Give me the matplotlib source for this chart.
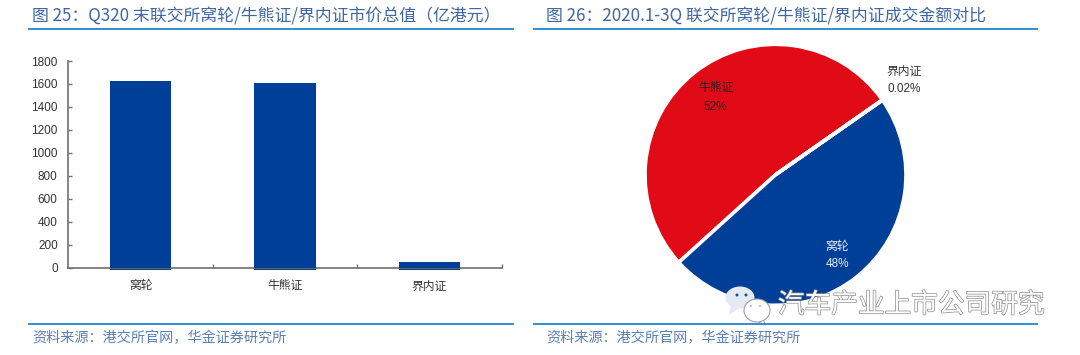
"""Two panels: bar of warrant / CBBC / inline warrant market value, pie of turnover share."""
import matplotlib
matplotlib.use("Agg")
import matplotlib.pyplot as plt
import matplotlib.patheffects as pe
from matplotlib.lines import Line2D
from matplotlib.patches import Ellipse, Polygon

plt.rcParams["font.family"] = ["Liberation Sans", "Noto Sans CJK SC", "DejaVu Sans"]

# --- data ---
BAR_CATEGORIES = ["窝轮", "牛熊证", "界内证"]
BAR_VALUES = [1625, 1612, 47]
BAR_YTICKS = [0, 200, 400, 600, 800, 1000, 1200, 1400, 1600, 1800]

PIE_VALUES = [52, 48, 0.02]
PIE_COLORS = ["#e10a17", "#003f98", "#d0d0d0"]

TITLE_LEFT = "图 25：Q320 末联交所窝轮/牛熊证/界内证市价总值（亿港元）"
TITLE_RIGHT = "图 26：2020.1-3Q 联交所窝轮/牛熊证/界内证成交金额对比"
SOURCE = "资料来源：港交所官网，华金证券研究所"
WATERMARK = "汽车产业上市公司研究"

W, H = 1080, 355
BLUE = "#003f98"
RULE = "#2f8fd0"
TITLE_COLOR = "#3f66a3"
SOURCE_COLOR = "#5a80b5"
CJK = ["Noto Sans CJK SC", "DejaVu Sans"]


def fx(x):
    return x / W


def fy(y):
    return 1 - y / H


def px_axes(fig, left, top, right, bottom):
    return fig.add_axes([fx(left), fy(bottom), (right - left) / W, (bottom - top) / H])


def label(fig, x, y, s, **kw):
    kw.setdefault("ha", "center")
    kw.setdefault("va", "center")
    fig.text(fx(x), fy(y), s, **kw)


fig = plt.figure(figsize=(W / 100, H / 100), dpi=100, facecolor="white")

# header / footer rules and captions
for x0, x1, ttl, tx in [(29, 512.5, TITLE_LEFT, 32), (534, 1037, TITLE_RIGHT, 546)]:
    for yy in (29.3, 324.3):
        fig.add_artist(Line2D([fx(x0), fx(x1)], [fy(yy), fy(yy)], color=RULE, lw=1.4))
    label(fig, tx, 16.5, ttl, ha="left", fontsize=12.15, color=TITLE_COLOR, family=CJK)
    label(fig, tx, 338, SOURCE, ha="left", fontsize=10.2, color=SOURCE_COLOR, family=CJK, style="italic")

# bar panel
ax = px_axes(fig, 68.3, 61, 501.7, 267.7)
xs = range(len(BAR_VALUES))
overhang = 20  # bars poke slightly under the axis in the source
ax.bar(xs, [v + overhang for v in BAR_VALUES], bottom=-overhang, width=0.425, color=BLUE,
       clip_on=False, zorder=2)
ax.hlines([0] * len(BAR_VALUES), [i - 0.2125 for i in xs], [i + 0.2125 for i in xs],
          color="#00306f", lw=1.2, zorder=4)
ax.set_xlim(-0.5, 2.5)
ax.set_ylim(0, 1800)
ax.set_yticks(BAR_YTICKS)
ax.set_xticks([0.5, 1.5, 2.5])
ax.set_xticklabels([])
ax.tick_params(axis="y", direction="in", length=3, width=1, color="#707070", labelsize=8.5,
               labelcolor="#333333", pad=7.6)
ax.tick_params(axis="x", direction="in", length=3, width=1, color="#707070")
for side in ("top", "right"):
    ax.spines[side].set_visible(False)
for side in ("left", "bottom"):
    ax.spines[side].set_color("#707070")
    ax.spines[side].set_linewidth(1.2)
for i, name in enumerate(BAR_CATEGORIES):
    label(fig, 140.5 + 144.5 * i, 286.5, name, fontsize=8.5, color="#333333")

# pie panel
pie_ax = px_axes(fig, 645, 44.3, 906, 305.3)
pie_ax.pie(PIE_VALUES, colors=PIE_COLORS, startangle=35, counterclock=True, radius=1,
           wedgeprops={"edgecolor": "white", "linewidth": 2.6, "clip_on": False})
pie_ax.set_xlim(-1, 1)
pie_ax.set_ylim(-1, 1)
label(fig, 716, 88, "牛熊证", fontsize=8.5, color="#222222")
label(fig, 715, 106.5, "52%", fontsize=8.5, color="#222222")
label(fig, 904, 71.5, "界内证", fontsize=8.5, color="#333333")
label(fig, 904, 89, "0.02%", fontsize=8.5, color="#333333")
label(fig, 837, 247, "窝轮", fontsize=8.5, color="#e8edf5")
label(fig, 837, 264.3, "48%", fontsize=8.5, color="#e8edf5")

# watermark on top of everything
over = fig.add_axes([0, 0, 1, 1], facecolor="none")
over.set_xlim(0, W)
over.set_ylim(H, 0)
over.axis("off")
over.add_patch(Polygon([(731, 304), (729, 315), (741, 307)], fc="#e4e9f2", ec="none"))
over.add_patch(Ellipse((740, 297.5), 29, 22, fc="#e4e9f2", ec="none"))
over.add_patch(Polygon([(762, 318), (766, 325), (756, 321)], fc="white", ec="#999999", lw=0.6))
over.add_patch(Ellipse((757, 310.5), 26, 23, fc="white", ec="#a0a0a0", lw=0.8))
for dx, dy, c, r in [(737, 295, "#1c4f9a", 3), (746, 295, "#1c4f9a", 3),
                     (751, 306, "#c0c0c0", 2.2), (760, 306, "#c0c0c0", 2.2)]:
    over.add_patch(Ellipse((dx, dy), r, r, fc=c, ec="none"))
label(fig, 911, 305, WATERMARK, fontsize=19.2, color="white", family=CJK, zorder=10,
      path_effects=[pe.withStroke(linewidth=1.0, foreground="#8c8c8c")])

fig.savefig("out.png", dpi=100, facecolor="white")
